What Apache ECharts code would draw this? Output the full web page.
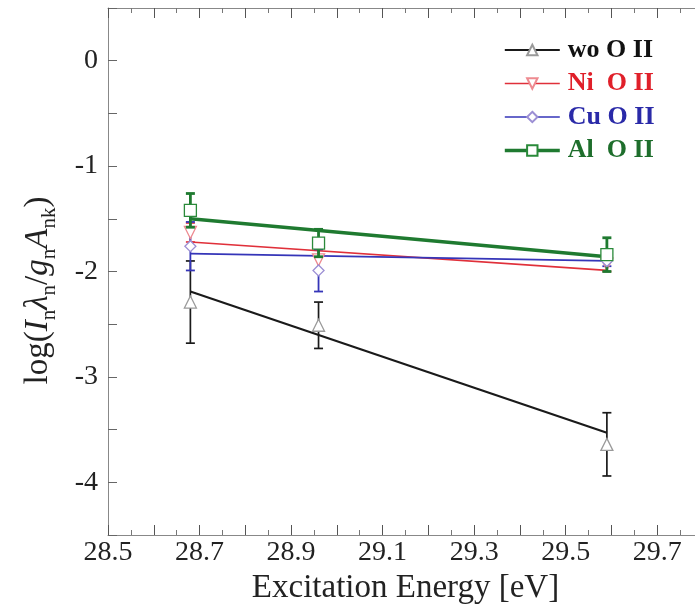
<!DOCTYPE html>
<html>
<head>
<meta charset="utf-8">
<script src="https://cdn.jsdelivr.net/npm/echarts@6/dist/echarts.min.js"></script>
<style>
  html, body { margin: 0; padding: 0; background: #fff; }
  #chart { width: 695px; height: 614px; }
</style>
</head>
<body>
<div id="chart"></div>
<script>
// 数据点 (激发能 eV)
const xVals = [28.68, 28.96, 29.59];
const fitX = [28.68, 29.59];

const woY = [-2.29, -2.51, -3.64];
const woErr = [0.39, 0.22, 0.30];
const woFit = [-2.19, -3.53];

const niY = [-1.63, -1.89, -1.93];
const niErr = [0.09, 0.10, 0.07];
const niFit = [-1.72, -1.99];

const cuY = [-1.76, -1.99, -1.90];
const cuErr = [0.23, 0.20, 0.05];
const cuFit = [-1.83, -1.90];

const alY = [-1.42, -1.73, -1.84];
const alErr = [0.16, 0.13, 0.16];
const alFit = [-1.50, -1.86];

const xTickLabels = ['28.5', '28.7', '28.9', '29.1', '29.3', '29.5', '29.7'];
const yTickLabels = ['0', '-1', '-2', '-3', '-4'];

const FONT = 'Liberation Serif';

const groups = [
  { name: 'wo O II', y: woY, err: woErr, fit: woFit, line: '#1a1a1a', text: '#111',
    symbol: 'triangle', rotate: 0, size: 12, border: '#9a9a9a', lw: 2.2, ew: 1.7 },
  { name: 'Ni  O II', y: niY, err: niErr, fit: niFit, line: '#e0303a', text: '#e0202a',
    symbol: 'triangle', rotate: 180, size: 12, border: '#ee8a90', lw: 1.7, ew: 1.6 },
  { name: 'Cu O II', y: cuY, err: cuErr, fit: cuFit, line: '#3535b8', text: '#2a2aa8',
    symbol: 'diamond', rotate: 0, size: 11, border: '#9c8fd4', lw: 1.7, ew: 1.8 },
  { name: 'Al  O II', y: alY, err: alErr, fit: alFit, line: '#1f7a30', text: '#1e6e2c',
    symbol: 'rect', rotate: 0, size: 12, border: '#2a8a3a', lw: 3.6, ew: 2.8 }
];

function errorRender(color, width) {
  return function (params, api) {
    const x = api.value(0), y = api.value(1), e = api.value(2);
    const top = api.coord([x, y + e]);
    const bot = api.coord([x, y - e]);
    const w = 4.5;
    const st = { stroke: color, lineWidth: width };
    return {
      type: 'group',
      children: [
        { type: 'line', shape: { x1: top[0], y1: top[1], x2: bot[0], y2: bot[1] }, style: st },
        { type: 'line', shape: { x1: top[0] - w, y1: top[1], x2: top[0] + w, y2: top[1] }, style: st },
        { type: 'line', shape: { x1: bot[0] - w, y1: bot[1], x2: bot[0] + w, y2: bot[1] }, style: st }
      ]
    };
  };
}

const series = [];
groups.forEach((g, i) => {
  // 拟合直线
  series.push({
    name: g.name + ' fit',
    type: 'line',
    data: fitX.map((x, k) => [x, g.fit[k]]),
    symbol: 'none',
    lineStyle: { color: g.line, width: g.lw },
    z: 2 + i,
    silent: true
  });
  // 误差棒
  series.push({
    name: g.name + ' err',
    type: 'custom',
    data: xVals.map((x, k) => [x, g.y[k], g.err[k]]),
    renderItem: errorRender(g.line, g.ew),
    z: 3 + i,
    silent: true
  });
  // 数据点
  series.push({
    name: g.name,
    type: 'line',
    data: xVals.map((x, k) => [x, g.y[k]]),
    symbol: g.symbol,
    symbolRotate: g.rotate,
    symbolSize: g.size,
    showAllSymbol: true,
    lineStyle: { opacity: 0, width: g.lw, color: g.line },
    itemStyle: { color: '#fff', borderColor: g.border, borderWidth: 1.3 },
    z: 4 + i
  });
});

const chart = echarts.init(document.getElementById('chart'));

const xAxisBase = {
  type: 'value',
  min: 28.5,
  max: 29.8,
  interval: 0.1,
  axisLine: { onZero: false, lineStyle: { color: '#888', width: 1 } },
  axisTick: { inside: true, length: 10, lineStyle: { color: '#555' } },
  minorTick: { show: true, splitNumber: 2, length: 5, lineStyle: { color: '#777' } },
  splitLine: { show: false }
};

const option = {
  animation: false,
  backgroundColor: '#fff',
  textStyle: { fontFamily: FONT },
  grid: { left: 108, width: 595, top: 8, bottom: 79, outerBoundsMode: 'none', containLabel: false },
  legend: {
    orient: 'vertical',
    left: 503,
    top: 37,
    padding: 0,
    itemWidth: 55,
    itemHeight: 13,
    itemGap: 7.5,
    selectedMode: false,
    data: groups.map(g => ({
      name: g.name,
      textStyle: { color: g.text, fontSize: 26, fontWeight: 'bold', fontFamily: FONT,
        lineHeight: 22, padding: [0, 0, 0, 3] },
      lineStyle: { opacity: 1, color: g.line, width: g.lw }
    }))
  },
  xAxis: [
    Object.assign({}, xAxisBase, {
      name: 'Excitation Energy [eV]',
      nameLocation: 'middle',
      nameGap: 37,
      nameTextStyle: { fontSize: 33, color: '#222', fontFamily: FONT },
      axisLabel: {
        margin: 4,
        fontSize: 28,
        color: '#222',
        fontFamily: FONT,
        formatter: v => {
          const s = v.toFixed(1);
          return xTickLabels.indexOf(s) >= 0 ? s : '';
        }
      }
    }),
    Object.assign({}, xAxisBase, {
      position: 'top',
      axisLabel: { show: false }
    })
  ],
  yAxis: {
    type: 'value',
    min: -4.5,
    max: 0.5,
    interval: 0.5,
    name: '{t|log(}{it|I}{sub|n}{it|λ}{sub|n}{t|/}{it|g}{sub|n}{it|A}{sub|nk}{t|)}',
    nameLocation: 'middle',
    nameGap: 48,
    nameTextStyle: {
      padding: [0, 38, 0, 0],
      rich: {
        t: { fontSize: 33, fontFamily: FONT, color: '#222', lineHeight: 44 },
        it: { fontSize: 33, fontFamily: FONT, fontStyle: 'italic', color: '#222', lineHeight: 44 },
        sub: { fontSize: 21, fontFamily: FONT, color: '#222', verticalAlign: 'bottom', lineHeight: 44 }
      }
    },
    axisLine: { show: true, onZero: false, lineStyle: { color: '#888', width: 1 } },
    axisTick: { show: true, inside: true, length: 9, lineStyle: { color: '#666' } },
    splitLine: { show: false },
    axisLabel: {
      margin: 10,
      fontSize: 28,
      color: '#222',
      fontFamily: FONT,
      formatter: v => {
        const s = String(Math.round(v * 10) / 10);
        return yTickLabels.indexOf(s) >= 0 ? s : '';
      }
    }
  },
  series: series
};

chart.setOption(option);
</script>
</body>
</html>
